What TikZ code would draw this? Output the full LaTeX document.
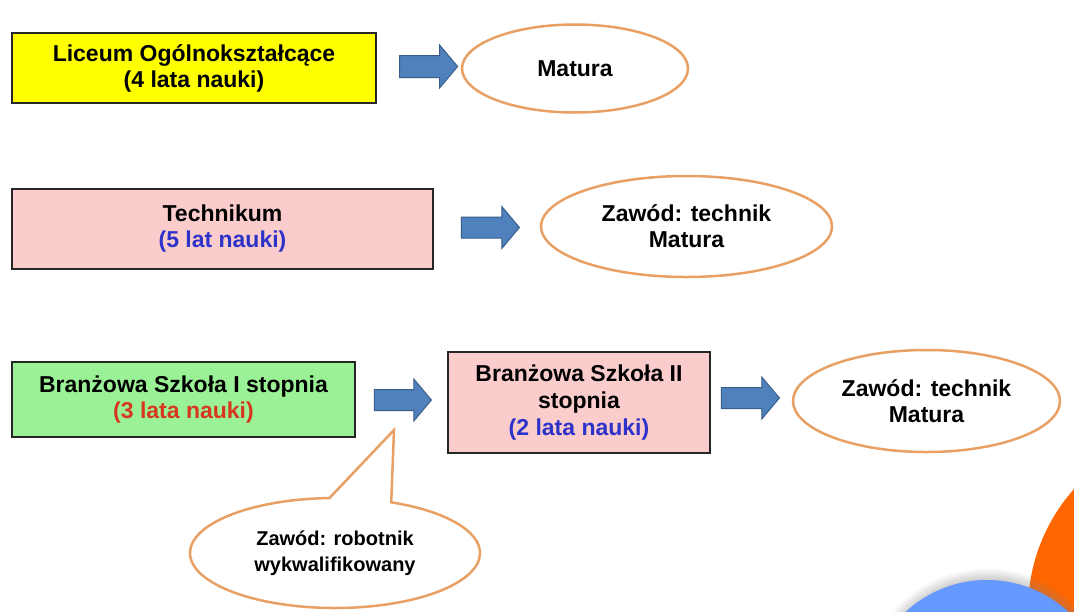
\documentclass[tikz,border=0pt]{standalone}
\usepackage{fontspec}
\setmainfont{Liberation Sans}
\usepackage{tikz}
\usepackage{xcolor}
\usetikzlibrary{positioning, shapes.geometric, shapes.arrows, shapes.callouts, shadows}
\definecolor{lyyellow}{RGB}{255, 255, 0}
\definecolor{tkpink}{RGB}{250, 204, 204}
\definecolor{bsgreen}{RGB}{155, 242, 150}
\definecolor{arrblue}{RGB}{79, 129, 189}
\definecolor{arrdark}{RGB}{56, 93, 138}
\definecolor{ovorange}{RGB}{232, 160, 100}
\definecolor{txtblue}{RGB}{45, 50, 200}
\definecolor{txtred}{RGB}{215, 55, 30}
\definecolor{decoorange}{RGB}{255, 102, 0}
\definecolor{decoblue}{RGB}{102, 153, 255}
\tikzset{
    schoolbox/.style={rectangle, draw=black!85, line width=1.2pt, align=center, inner sep=0pt, font=\fontsize{23}{26}\selectfont\bfseries},
    liceumbox/.style={schoolbox, fill=lyyellow},
    pinkbox/.style={schoolbox, fill=tkpink},
    greenbox/.style={schoolbox, fill=bsgreen},
    resultoval/.style={ellipse, draw=ovorange, line width=2.5pt, fill=white, align=center, inner sep=0pt, font=\fontsize{23}{26}\selectfont\bfseries},
    blockarrow/.style={single arrow, draw=arrdark, fill=arrblue, line width=1pt, inner xsep=0pt, inner ysep=10.5pt, text height=0pt, text depth=0pt, minimum height=58pt, single arrow head extend=10.5pt, single arrow tip angle=100},
    talkoval/.style={ellipse callout, draw=ovorange, line width=2.5pt, fill=white, align=center, inner sep=0pt, callout pointer arc=25, font=\fontsize{20}{26}\selectfont\bfseries}
}

\begin{document}
\begin{tikzpicture}[x=1pt, y=-1pt]
    \useasboundingbox (0,0) rectangle (1074,611);

    % decoration in the corner
    \begin{scope}
        \clip (0,0) rectangle (1074,611);
        \fill[decoorange] (1210,610) circle (182pt);
        \fill[decoblue, circular drop shadow={shadow xshift=0pt, shadow yshift=6pt, shadow scale=1.05, opacity=0.6}] (987,700) circle (120pt);
    \end{scope}

    % Liceum
    \node[liceumbox, minimum width=364pt, minimum height=70pt] (lo) at (194,68) {Liceum Ogólnokształcące\\(4 lata nauki)};
    \node[blockarrow] (a1) at (424,66.5) {};
    \node[resultoval, minimum width=226pt, minimum height=88pt] (mat1) at (575,68.5) {Matura};

    % Technikum
    \node[pinkbox, minimum width=421pt, minimum height=80pt] (tech) at (222.5,229) {Technikum\\{\color{txtblue}(5 lat nauki)}};
    \node[blockarrow, inner ysep=10pt] (a2) at (486,227.5) {};
    \node[resultoval, minimum width=291pt, minimum height=101pt] (mat2) at (686.5,226.5) {Zawód: technik\\Matura};

    % Branzowa
    \node[greenbox, minimum width=343pt, minimum height=75pt] (bs1) at (183.5,399.5) {Branżowa Szkoła I stopnia\\{\color{txtred}(3 lata nauki)}};
    \node[blockarrow, inner ysep=10pt, minimum height=57pt] (a3) at (398.5,400) {};
    \node[pinkbox, minimum width=262pt, minimum height=101pt, font=\fontsize{23}{27}\selectfont\bfseries] (bs2) at (579,402.5) {Branżowa Szkoła II\\stopnia\\{\color{txtblue}(2 lata nauki)}};
    \node[blockarrow, inner ysep=10pt] (a4) at (746,398) {};
    \node[resultoval, minimum width=267pt, minimum height=102pt] (mat3) at (926.5,401) {Zawód: technik\\Matura};

    % robotnik callout
    \coordinate (tip) at (394,430);
    \node[talkoval, minimum width=290pt, minimum height=110pt, callout absolute pointer={(tip)}] (rob) at (335,553) {Zawód: robotnik\\wykwalifikowany};
\end{tikzpicture}
\end{document}
